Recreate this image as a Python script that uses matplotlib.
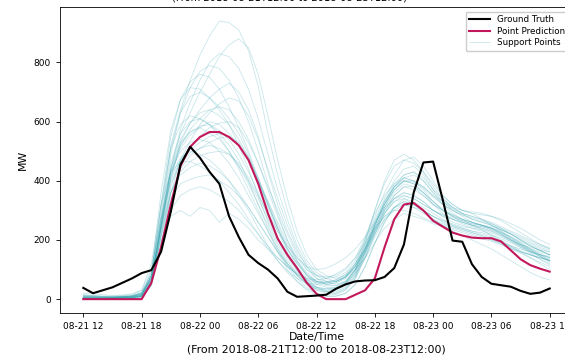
import numpy as np
import pandas as pd
import matplotlib
matplotlib.use("Agg")
import matplotlib.pyplot as plt
import matplotlib.dates as mdates

# hourly timestamps, 2018-08-21 12:00 -> 2018-08-23 12:00
times = pd.date_range("2018-08-21 12:00", "2018-08-23 12:00", freq="h")

ground_truth = [38, 20, 30, 40, 55, 70, 88, 98, 160, 295, 455, 515, 478, 430, 390,
                280, 210, 150, 122, 100, 70, 25, 8, 10, 12, 15, 35, 50, 60, 63, 64,
                75, 105, 185, 360, 462, 465, 335, 198, 194, 118, 75, 52, 47, 42, 28,
                18, 22, 36]

point_prediction = [0, 0, 0, 0, 0, 0, 0, 55, 175, 320, 450, 515, 548, 565, 565, 548,
                    520, 470, 390, 290, 205, 150, 105, 55, 18, 0, 0, 0, 15, 30, 70,
                    175, 270, 320, 325, 300, 265, 245, 225, 215, 208, 206, 206, 195,
                    165, 135, 115, 103, 93]

support_points = [
    [5, 3, 2, 4, 6, 8, 15, 80, 300, 520, 640, 740, 825, 890, 940, 935, 910, 840, 720, 560, 420, 300, 200, 130, 90, 70, 60, 75, 110, 180, 260, 330, 390, 420, 430, 400, 360, 320, 290, 270, 250, 235, 215, 195, 175, 160, 150, 140, 130],
    [10, 8, 6, 5, 8, 10, 20, 70, 250, 440, 560, 630, 700, 760, 820, 860, 880, 850, 760, 620, 470, 340, 230, 150, 100, 80, 70, 80, 120, 190, 270, 340, 400, 440, 450, 420, 370, 330, 300, 280, 260, 250, 240, 220, 200, 180, 160, 150, 140],
    [0, 0, 2, 3, 5, 6, 10, 50, 260, 490, 630, 715, 770, 790, 780, 740, 680, 600, 500, 390, 290, 200, 130, 80, 50, 40, 35, 50, 90, 160, 240, 310, 370, 400, 390, 360, 320, 300, 280, 270, 260, 250, 240, 230, 210, 190, 170, 160, 150],
    [15, 12, 10, 8, 10, 12, 25, 80, 240, 410, 530, 595, 640, 680, 710, 730, 700, 640, 550, 430, 320, 230, 160, 110, 80, 70, 75, 90, 130, 200, 280, 360, 420, 470, 480, 450, 400, 350, 320, 300, 290, 270, 250, 230, 210, 190, 170, 150, 130],
    [0, 0, 0, 0, 2, 3, 8, 60, 280, 510, 630, 685, 700, 680, 650, 610, 560, 490, 400, 310, 230, 160, 100, 60, 30, 20, 15, 30, 70, 140, 220, 290, 340, 360, 350, 330, 300, 280, 260, 250, 240, 230, 220, 200, 180, 160, 140, 120, 100],
    [20, 18, 15, 12, 14, 18, 30, 100, 280, 430, 520, 575, 610, 640, 650, 640, 600, 540, 460, 370, 280, 200, 140, 100, 80, 75, 80, 100, 140, 210, 290, 350, 390, 410, 400, 380, 350, 330, 310, 290, 270, 260, 250, 235, 220, 200, 180, 165, 150],
    [5, 5, 4, 3, 5, 6, 12, 80, 320, 510, 590, 620, 610, 590, 560, 520, 470, 400, 320, 240, 170, 110, 70, 40, 20, 10, 10, 20, 50, 110, 190, 260, 310, 340, 330, 310, 290, 270, 250, 240, 230, 225, 215, 205, 190, 175, 160, 145, 130],
    [8, 6, 5, 6, 8, 10, 18, 70, 250, 420, 510, 555, 580, 600, 590, 560, 520, 470, 400, 330, 260, 190, 130, 90, 60, 50, 55, 70, 110, 170, 250, 320, 380, 420, 430, 410, 370, 340, 310, 290, 280, 270, 255, 240, 220, 200, 185, 170, 160],
    [0, 1, 2, 2, 4, 5, 10, 55, 230, 410, 520, 565, 580, 560, 540, 500, 450, 390, 320, 250, 180, 120, 80, 50, 30, 25, 30, 45, 80, 150, 230, 300, 350, 380, 380, 360, 330, 300, 280, 260, 250, 245, 235, 220, 200, 185, 170, 155, 140],
    [12, 10, 9, 8, 9, 11, 22, 90, 270, 400, 470, 505, 530, 550, 560, 550, 520, 470, 400, 320, 240, 170, 120, 80, 60, 55, 60, 75, 110, 170, 240, 300, 340, 360, 350, 330, 300, 280, 270, 260, 250, 240, 230, 215, 200, 185, 175, 165, 160],
    [3, 2, 2, 3, 4, 6, 12, 60, 260, 430, 500, 530, 540, 530, 500, 460, 410, 350, 290, 230, 170, 120, 80, 50, 35, 30, 35, 50, 90, 160, 240, 310, 360, 390, 380, 350, 320, 290, 270, 255, 245, 240, 230, 215, 195, 175, 155, 135, 115],
    [6, 5, 4, 4, 6, 7, 14, 65, 240, 390, 460, 495, 510, 520, 510, 490, 450, 400, 340, 270, 200, 140, 95, 60, 40, 35, 40, 55, 95, 160, 230, 290, 330, 350, 340, 320, 300, 285, 270, 260, 250, 245, 240, 225, 210, 195, 180, 165, 150],
    [0, 0, 0, 1, 2, 3, 6, 50, 250, 410, 480, 500, 490, 470, 440, 400, 350, 300, 240, 180, 130, 90, 60, 35, 20, 15, 20, 35, 70, 140, 220, 290, 330, 340, 320, 300, 280, 265, 250, 240, 230, 220, 210, 195, 180, 165, 150, 135, 120],
    [10, 9, 8, 7, 8, 10, 20, 80, 240, 360, 420, 445, 460, 450, 430, 400, 360, 310, 260, 210, 160, 120, 90, 70, 60, 60, 65, 80, 110, 160, 220, 270, 300, 320, 310, 300, 280, 260, 245, 235, 225, 215, 205, 190, 175, 160, 150, 140, 130],
    [5, 4, 4, 5, 6, 8, 15, 70, 200, 280, 300, 280, 310, 300, 260, 290, 270, 240, 200, 170, 140, 110, 85, 65, 55, 55, 60, 75, 100, 140, 190, 240, 270, 290, 280, 270, 255, 245, 235, 225, 215, 205, 195, 185, 170, 160, 150, 140, 130],
    [2, 2, 3, 3, 4, 5, 10, 60, 210, 340, 390, 405, 415, 420, 400, 380, 350, 310, 260, 210, 160, 115, 80, 55, 40, 35, 40, 55, 85, 140, 210, 270, 310, 330, 320, 300, 280, 265, 255, 245, 240, 235, 225, 210, 195, 180, 165, 150, 140],
    [4, 3, 3, 4, 5, 6, 10, 45, 180, 360, 470, 535, 590, 630, 660, 680, 670, 620, 540, 440, 340, 250, 170, 110, 70, 50, 45, 60, 100, 170, 250, 320, 380, 410, 400, 370, 330, 300, 280, 265, 255, 250, 240, 225, 205, 185, 165, 150, 135],
    [6, 5, 5, 6, 7, 8, 14, 60, 220, 380, 470, 515, 550, 580, 595, 600, 580, 530, 460, 380, 300, 220, 150, 100, 70, 60, 60, 75, 115, 180, 260, 330, 380, 410, 420, 400, 360, 330, 305, 290, 280, 270, 260, 245, 230, 215, 200, 185, 175],
    [1, 1, 1, 2, 3, 4, 9, 80, 320, 550, 675, 735, 760, 750, 710, 650, 580, 500, 410, 320, 240, 170, 110, 70, 40, 25, 20, 35, 75, 150, 230, 300, 350, 380, 370, 350, 320, 300, 285, 270, 260, 250, 235, 220, 200, 180, 160, 145, 130],
    [14, 12, 10, 10, 12, 15, 30, 120, 320, 430, 465, 465, 450, 430, 400, 360, 320, 270, 220, 170, 130, 95, 70, 55, 50, 55, 65, 85, 120, 170, 230, 280, 310, 320, 310, 290, 270, 255, 245, 235, 225, 215, 200, 185, 170, 155, 140, 125, 110],
    [7, 6, 5, 5, 6, 8, 16, 75, 270, 440, 540, 595, 630, 640, 620, 590, 540, 480, 400, 320, 240, 170, 120, 80, 55, 45, 45, 60, 100, 170, 250, 320, 370, 400, 395, 375, 345, 320, 300, 285, 275, 265, 255, 240, 225, 210, 195, 180, 170],
    [9, 8, 7, 7, 8, 10, 18, 65, 210, 360, 440, 485, 510, 530, 545, 550, 530, 480, 410, 330, 250, 180, 125, 85, 60, 50, 55, 75, 120, 200, 300, 390, 450, 470, 460, 430, 390, 350, 320, 300, 290, 285, 280, 270, 255, 240, 220, 200, 185],
    [3, 3, 3, 3, 4, 5, 10, 55, 240, 430, 530, 565, 585, 590, 570, 540, 490, 430, 360, 280, 210, 150, 100, 65, 40, 30, 35, 55, 100, 190, 300, 400, 470, 490, 470, 430, 380, 340, 310, 300, 295, 290, 280, 265, 245, 225, 205, 185, 170],
    [2, 2, 2, 3, 4, 5, 10, 60, 240, 440, 575, 665, 740, 800, 830, 820, 780, 710, 610, 490, 370, 270, 180, 120, 80, 60, 50, 60, 100, 170, 250, 320, 370, 400, 400, 380, 350, 320, 300, 285, 270, 260, 250, 235, 220, 200, 180, 165, 150],
    [8, 7, 6, 6, 7, 9, 18, 65, 190, 300, 350, 370, 380, 370, 350, 330, 300, 260, 220, 180, 140, 110, 85, 70, 65, 70, 85, 105, 140, 190, 240, 280, 300, 300, 290, 275, 260, 250, 240, 230, 220, 210, 200, 190, 180, 170, 160, 150, 145],
    [4, 3, 3, 3, 4, 6, 12, 95, 360, 570, 675, 715, 710, 680, 640, 590, 520, 440, 350, 260, 190, 130, 85, 55, 35, 25, 25, 40, 80, 160, 250, 330, 380, 400, 390, 360, 330, 305, 285, 270, 260, 250, 240, 225, 205, 185, 165, 145, 125],
    [11, 10, 9, 8, 9, 11, 20, 70, 220, 360, 430, 465, 485, 495, 500, 490, 460, 410, 350, 290, 230, 180, 140, 110, 100, 105, 120, 140, 170, 210, 260, 310, 340, 350, 340, 320, 300, 285, 275, 265, 255, 250, 245, 235, 220, 205, 190, 175, 165],
    [0, 0, 0, 0, 1, 2, 5, 45, 250, 460, 560, 600, 610, 590, 550, 500, 440, 370, 300, 230, 160, 100, 60, 30, 15, 10, 10, 20, 50, 110, 190, 260, 310, 330, 320, 295, 270, 250, 230, 215, 200, 185, 170, 150, 130, 110, 90, 75, 65],
]

fig = plt.figure(figsize=(5.65, 3.59), dpi=100)
ax = fig.add_axes([0.1062, 0.128, 0.908, 0.852])

ax.plot(times, ground_truth, color="black", lw=1.5, label="Ground Truth", zorder=4)
ax.plot(times, point_prediction, color="#C2185B", lw=1.5, label="Point Prediction", zorder=3)
for i, sp in enumerate(support_points):
    ax.plot(times, sp, color="#3aa6b4", lw=0.6, alpha=0.27,
            label="Support Points" if i == 0 else None, zorder=2)

ax.xaxis.set_major_locator(mdates.HourLocator(byhour=[0, 6, 12, 18]))
ax.xaxis.set_major_formatter(mdates.DateFormatter("%m-%d %H"))
ax.tick_params(labelsize=6.5, length=3, width=0.6)
for s in ax.spines.values():
    s.set_linewidth(0.6)

ax.set_xlabel("Date/Time\n(From 2018-08-21T12:00 to 2018-08-23T12:00)", fontsize=7.8, labelpad=1)
ax.set_ylabel("MW", fontsize=7.8)
ax.legend(loc="upper right", fontsize=6.3, handlelength=2.4, borderpad=0.4,
          labelspacing=0.3, framealpha=1)

fig.text(0.513, 1.006, "(From 2018-08-21T12:00 to 2018-08-23T12:00)",
         ha="center", va="center", fontsize=7.1)

fig.savefig("out.png", dpi=100)
